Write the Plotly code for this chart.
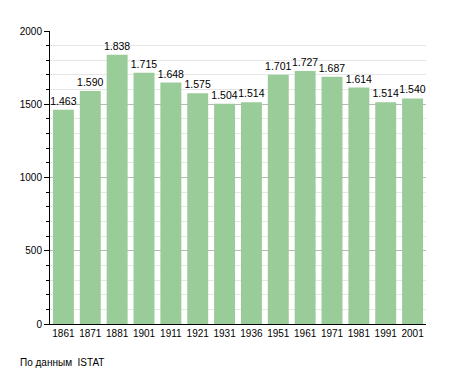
import plotly.graph_objects as go

years = ["1861", "1871", "1881", "1901", "1911", "1921", "1931", "1936",
         "1951", "1961", "1971", "1981", "1991", "2001"]
population = [1463, 1590, 1838, 1715, 1648, 1575, 1504, 1514,
              1701, 1727, 1687, 1614, 1514, 1540]
labels = [f"{v:,}".replace(",", ".") for v in population]
source_note = "По данным  ISTAT"

fig = go.Figure(go.Bar(
    x=years, y=population, text=labels, textposition="outside",
    constraintext="none",
    textfont=dict(size=10.5, color="black"), cliponaxis=False,
    marker=dict(color="#99cc99", line=dict(width=0)),
))

fig.update_layout(
    width=447, height=365,
    margin=dict(l=42, r=29, t=23, b=49),
    paper_bgcolor="white", plot_bgcolor="white",
    font=dict(family="Liberation Sans, Arial, sans-serif", size=10, color="black"),
    bargap=0.22, showlegend=False,
    annotations=[dict(text=source_note, xref="paper", yref="paper",
                      x=-0.085, y=-0.105, xanchor="left", yanchor="top",
                      showarrow=False, font=dict(size=10))],
)
fig.update_xaxes(showline=True, linecolor="black", linewidth=1, ticks="",
                 tickfont=dict(size=10), showgrid=False)
fig.update_yaxes(range=[0, 2000], dtick=500, showline=True, linecolor="black",
                 linewidth=1, ticks="outside", ticklen=5, tickcolor="black",
                 tickfont=dict(size=10),
                 gridcolor="#b8b8b8", zeroline=False, tickformat="d",
                 minor=dict(dtick=100, ticks="outside", ticklen=3, tickcolor="black",
                            showgrid=True, gridcolor="#e6e6e6"))

fig.write_html("out.html")
